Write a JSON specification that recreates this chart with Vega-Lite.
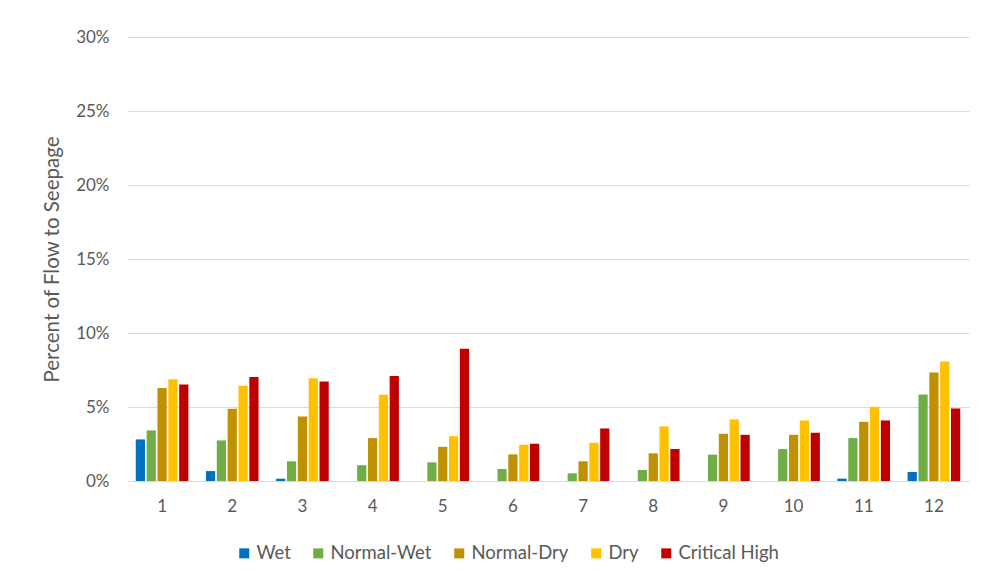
{
  "$schema": "https://vega.github.io/schema/vega-lite/v6.json",
  "autosize": "none",
  "width": 842,
  "height": 444,
  "padding": {"left": 127, "top": 37, "right": 15, "bottom": 104},
  "background": "white",
  "config": {
    "font": "Lato",
    "view": {"stroke": null},
    "axis": {"labelColor": "#595959", "titleColor": "#595959", "labelFontSize": 17, "titleFontSize": 20.5, "titleFontWeight": "normal", "labelFont": "Lato", "titleFont": "Lato"},
    "legend": {"labelColor": "#595959", "labelFontSize": 18.5, "labelFont": "Lato"}
  },
  "data": {
    "values": [
      {"month": 1, "type": "Wet", "pct": 2.81}, {"month": 1, "type": "Normal-Wet", "pct": 3.42}, {"month": 1, "type": "Normal-Dry", "pct": 6.29}, {"month": 1, "type": "Dry", "pct": 6.88}, {"month": 1, "type": "Critical High", "pct": 6.52},
      {"month": 2, "type": "Wet", "pct": 0.67}, {"month": 2, "type": "Normal-Wet", "pct": 2.74}, {"month": 2, "type": "Normal-Dry", "pct": 4.88}, {"month": 2, "type": "Dry", "pct": 6.43}, {"month": 2, "type": "Critical High", "pct": 7.03},
      {"month": 3, "type": "Wet", "pct": 0.16}, {"month": 3, "type": "Normal-Wet", "pct": 1.33}, {"month": 3, "type": "Normal-Dry", "pct": 4.36}, {"month": 3, "type": "Dry", "pct": 6.94}, {"month": 3, "type": "Critical High", "pct": 6.72},
      {"month": 4, "type": "Wet", "pct": 0}, {"month": 4, "type": "Normal-Wet", "pct": 1.06}, {"month": 4, "type": "Normal-Dry", "pct": 2.9}, {"month": 4, "type": "Dry", "pct": 5.82}, {"month": 4, "type": "Critical High", "pct": 7.1},
      {"month": 5, "type": "Wet", "pct": 0}, {"month": 5, "type": "Normal-Wet", "pct": 1.26}, {"month": 5, "type": "Normal-Dry", "pct": 2.31}, {"month": 5, "type": "Dry", "pct": 3.03}, {"month": 5, "type": "Critical High", "pct": 8.94},
      {"month": 6, "type": "Wet", "pct": 0}, {"month": 6, "type": "Normal-Wet", "pct": 0.81}, {"month": 6, "type": "Normal-Dry", "pct": 1.8}, {"month": 6, "type": "Dry", "pct": 2.45}, {"month": 6, "type": "Critical High", "pct": 2.52},
      {"month": 7, "type": "Wet", "pct": 0}, {"month": 7, "type": "Normal-Wet", "pct": 0.52}, {"month": 7, "type": "Normal-Dry", "pct": 1.33}, {"month": 7, "type": "Dry", "pct": 2.58}, {"month": 7, "type": "Critical High", "pct": 3.55},
      {"month": 8, "type": "Wet", "pct": 0}, {"month": 8, "type": "Normal-Wet", "pct": 0.74}, {"month": 8, "type": "Normal-Dry", "pct": 1.87}, {"month": 8, "type": "Dry", "pct": 3.69}, {"month": 8, "type": "Critical High", "pct": 2.16},
      {"month": 9, "type": "Wet", "pct": 0}, {"month": 9, "type": "Normal-Wet", "pct": 1.78}, {"month": 9, "type": "Normal-Dry", "pct": 3.19}, {"month": 9, "type": "Dry", "pct": 4.16}, {"month": 9, "type": "Critical High", "pct": 3.12},
      {"month": 10, "type": "Wet", "pct": 0}, {"month": 10, "type": "Normal-Wet", "pct": 2.16}, {"month": 10, "type": "Normal-Dry", "pct": 3.12}, {"month": 10, "type": "Dry", "pct": 4.09}, {"month": 10, "type": "Critical High", "pct": 3.26},
      {"month": 11, "type": "Wet", "pct": 0.16}, {"month": 11, "type": "Normal-Wet", "pct": 2.9}, {"month": 11, "type": "Normal-Dry", "pct": 4.0}, {"month": 11, "type": "Dry", "pct": 5.01}, {"month": 11, "type": "Critical High", "pct": 4.09},
      {"month": 12, "type": "Wet", "pct": 0.61}, {"month": 12, "type": "Normal-Wet", "pct": 5.84}, {"month": 12, "type": "Normal-Dry", "pct": 7.33}, {"month": 12, "type": "Dry", "pct": 8.07}, {"month": 12, "type": "Critical High", "pct": 4.9}
    ]
  },
  "mark": {"type": "bar"},
  "encoding": {
    "x": {
      "field": "month", "type": "ordinal", "title": null,
      "scale": {"paddingInner": 0.25, "paddingOuter": 0.125},
      "axis": {"labelAngle": 0, "ticks": false, "domain": true, "domainColor": "#D9D9D9", "domainWidth": 1, "labelPadding": 17, "grid": false}
    },
    "xOffset": {
      "field": "type", "type": "nominal",
      "sort": ["Wet", "Normal-Wet", "Normal-Dry", "Dry", "Critical High"],
      "scale": {"paddingInner": 0.15}
    },
    "y": {
      "field": "pct", "type": "quantitative",
      "title": "Percent of Flow to Seepage",
      "scale": {"domain": [0, 30], "nice": false},
      "axis": {"values": [0, 5, 10, 15, 20, 25, 30], "labelExpr": "datum.value + '%'", "ticks": false, "domain": false, "gridColor": "#D9D9D9", "gridWidth": 1, "labelPadding": 18, "titleX": -75, "titleY": 222, "titleAngle": -90, "titleAlign": "center", "titleBaseline": "middle"}
    },
    "color": {
      "field": "type", "type": "nominal", "title": null,
      "sort": ["Wet", "Normal-Wet", "Normal-Dry", "Dry", "Critical High"],
      "scale": {"domain": ["Wet", "Normal-Wet", "Normal-Dry", "Dry", "Critical High"], "range": ["#0070C0", "#70AD47", "#BF9000", "#FFC000", "#C00000"]},
      "legend": {"orient": "none", "direction": "horizontal", "legendX": 108, "legendY": 507, "symbolType": "square", "symbolSize": 100, "symbolStrokeWidth": 0, "symbolOpacity": 1, "columnPadding": 18, "labelOffset": 3}
    }
  }
}
